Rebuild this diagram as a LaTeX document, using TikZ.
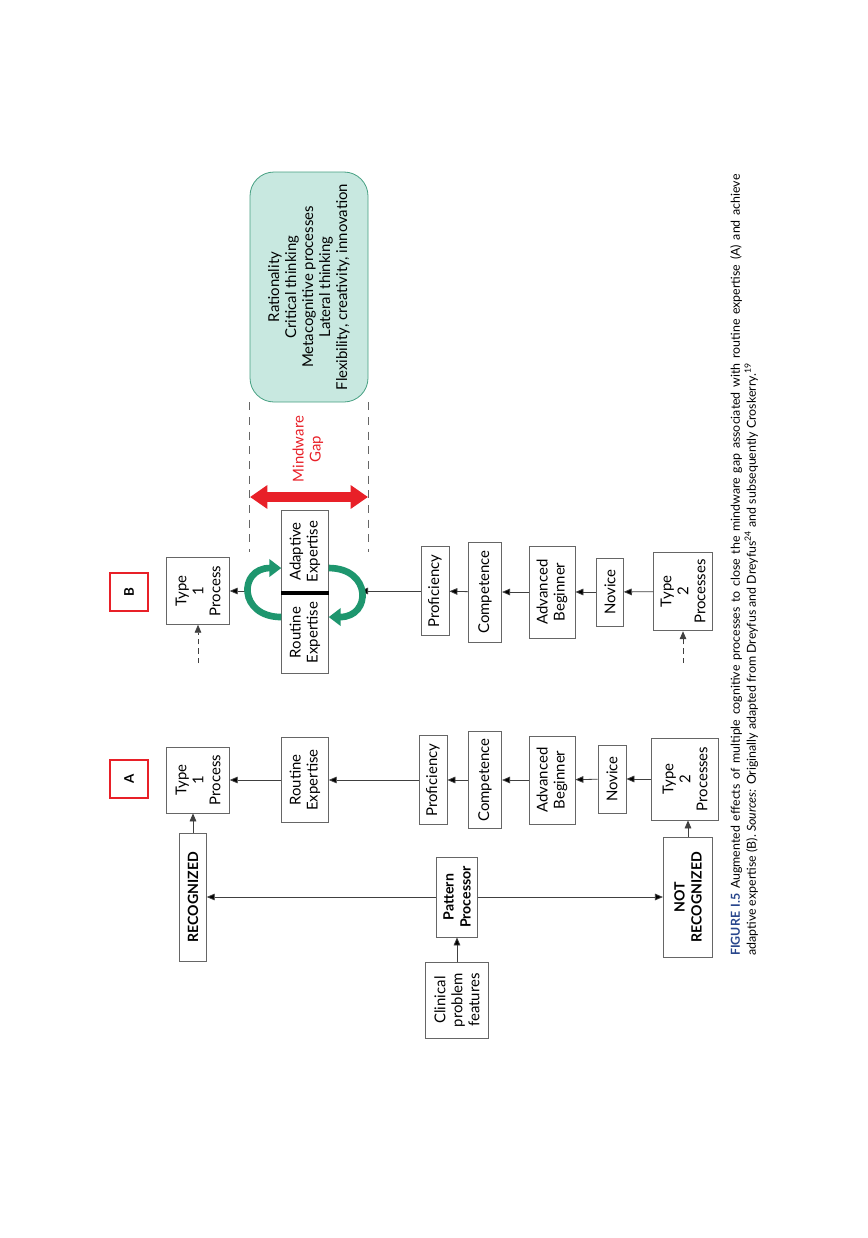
\documentclass[tikz,border=0pt]{standalone}
\usepackage{fontspec}
\setmainfont{Lato}
\usetikzlibrary{positioning}
\usetikzlibrary{arrows.meta}
\definecolor{mindfill}{RGB}{200,232,224}
\definecolor{mindline}{RGB}{70,160,130}
\definecolor{cyclegreen}{RGB}{30,150,110}
\definecolor{gapred}{RGB}{232,32,40}
\definecolor{capblue}{RGB}{40,70,140}
\tikzset{
    stage/.style = {rectangle, draw=black!60, line width=0.6pt, rotate=90, align=center, inner sep=0pt, font=\fontsize{11.2}{12.75}\selectfont},
    stagebf/.style = {stage, font=\fontsize{10.6}{12.75}\selectfont\bfseries},
    tag/.style = {rectangle, draw=gapred, line width=1.5pt, rotate=90, minimum width=28pt, minimum height=28pt, font=\bfseries},
    flow/.style = {-{Triangle[length=6pt,width=5pt]}, line width=0.6pt, draw=black!75},
    flowd/.style = {flow, dash pattern=on 4pt off 3pt}, % incoming
    cyc/.style = {-{Triangle[length=9pt,width=13pt]}, line width=5pt, draw=cyclegreen},
    gaparrow/.style = {{Triangle[length=13pt,width=17pt]}-{Triangle[length=13pt,width=17pt]}, line width=7pt, draw=gapred},
    gapline/.style = {draw=black!60, line width=0.6pt, dash pattern=on 6pt off 5pt}
}
\begin{document}
\begin{tikzpicture}[x=0.75pt,y=-0.75pt]
\useasboundingbox (0,0) rectangle (867,1238);
%
\node[tag] at (129,779) (tagA) {A};
\node[tag] at (129,592) (tagB) {B};
%
\node[stage, minimum width=49.5pt, minimum height=47pt] at (198,780) (typeA1) {Type\\1\\Process};
\node[stage, minimum width=64pt, minimum height=35pt] at (305,780) (rexpA) {Routine\\Expertise};
\node[stage, minimum width=67pt, minimum height=21pt] at (433,780) (profA) {Proficiency};
\node[stage, minimum width=73pt, minimum height=25pt] at (485,780) (compA) {Competence};
\node[stage, minimum width=66pt, minimum height=34.5pt] at (552,780) (advA) {Advanced\\Beginner};
\node[stage, minimum width=51pt, minimum height=21pt] at (612,779) (novA) {Novice};
\node[stage, minimum width=61.5pt, minimum height=50pt] at (685,779) (type2A) {Type\\2\\Processes};
%
\node[stagebf, minimum width=96pt, minimum height=20pt] at (193,897) (rec) {RECOGNIZED};
\node[stagebf, minimum width=60pt, minimum height=31pt] at (457,897) (pat) {Pattern\\Processor};
\node[stagebf, minimum width=90pt, minimum height=37pt] at (688,897) (notrec) {NOT\\RECOGNIZED};
\node[stage, minimum width=57pt, minimum height=47pt] at (457,1000) (clin) {Clinical\\problem\\features};
%
\node[stage, minimum width=50pt, minimum height=47pt] at (198,591) (typeB1) {Type\\1\\Process};
\node[stage, minimum width=61pt, minimum height=35pt] at (305,551.5) (adapt) {Adaptive\\Expertise};
\node[stage, minimum width=61pt, minimum height=35pt] at (305,632.5) (routB) {Routine\\Expertise};
\node[stage, minimum width=67pt, minimum height=21pt] at (435,591) (profB) {Proficiency};
\node[stage, minimum width=75pt, minimum height=25pt] at (485,592) (compB) {Competence};
\node[stage, minimum width=69pt, minimum height=34.5pt] at (552,592) (advB) {Advanced\\Beginner};
\node[stage, minimum width=51pt, minimum height=20pt] at (610,592) (novB) {Novice};
\node[stage, minimum width=59pt, minimum height=44pt] at (683,591.5) (type2B) {Type\\2\\Processes};
%
\node[stage, draw=mindline, fill=mindfill, rounded corners=18pt, minimum width=172.5pt, minimum height=88.5pt] at (309,287) (mind) {Rationality\\Critical thinking\\Metacognitive processes\\Lateral thinking\\Flexibility, creativity, innovation};
\node[rotate=90, align=center, text=gapred, font=\fontsize{11.2}{12.75}\selectfont] at (308,449) (gaplabel) {Mindware\\Gap};
%
\coordinate (lapex) at (249,591);
\coordinate (rapex) at (360,591);
\coordinate (dashB1) at (198,663);
\coordinate (dashB2) at (683,663);
\coordinate (gapl) at (250,497);
\coordinate (gapr) at (368,497);
\coordinate (gapend) at (250,552);
%
\draw[flow] (type2A) edge node {} (novA);
\draw[flow] (novA) edge node {} (advA);
\draw[flow] (advA) edge node {} (compA);
\draw[flow] (compA) edge node {} (profA);
\draw[flow] (profA) edge node {} (rexpA);
\draw[flow] (rexpA) edge node {} (typeA1);
\draw[flow] (clin) edge node {} (pat);
\draw[flow] (pat) edge node {} (rec);
\draw[flow] (pat) edge node {} (notrec);
\draw[flow] (rec.east) -- (rec.east |- typeA1.west);
\draw[flow] (notrec.east) -- (notrec.east |- type2A.west);
%
\draw[flow] (type2B) edge node {} (novB);
\draw[flow] (novB) edge node {} (advB);
\draw[flow] (advB) edge node {} (compB);
\draw[flow] (compB) edge node {} (profB);
\draw[flow] (profB) edge node {} (rapex);
\draw[flow] (lapex) edge node {} (typeB1);
\draw[flowd] (dashB1) -- (typeB1);
\draw[flowd] (dashB2) -- (type2B);
%
\draw[line width=3pt] (adapt.north west) -- (adapt.south west);
\draw[cyc] ([yshift=11.6pt]routB.north) .. controls +(-43,0) and +(-43,0) .. ([yshift=-12.4pt]adapt.north);
\draw[cyc] ([yshift=-12.4pt]adapt.south) .. controls +(43,0) and +(43,0) .. ([yshift=11.6pt]routB.south);
%
\draw[gapline] (mind.north west) -- (mind.north west |- gapend);
\draw[gapline] (mind.south west) -- (mind.south west |- gapend);
\draw[gaparrow] (gapl) -- (gapr);
%
\node[rotate=90, anchor=north west, inner sep=0pt, text width=586pt, align=justify, font=\fontsize{9.3}{12}\selectfont] at (730,956) (caption) {{\color{capblue}\bfseries FIGURE I.5} Augmented effects of multiple cognitive processes to close the mindware gap associated with routine expertise (A) and achieve\linebreak adaptive expertise (B). \textit{Sources:} Originally adapted from Dreyfus and Dreyfus\textsuperscript{24} and subsequently Croskerry.\textsuperscript{19}};
\end{tikzpicture}
\end{document}
